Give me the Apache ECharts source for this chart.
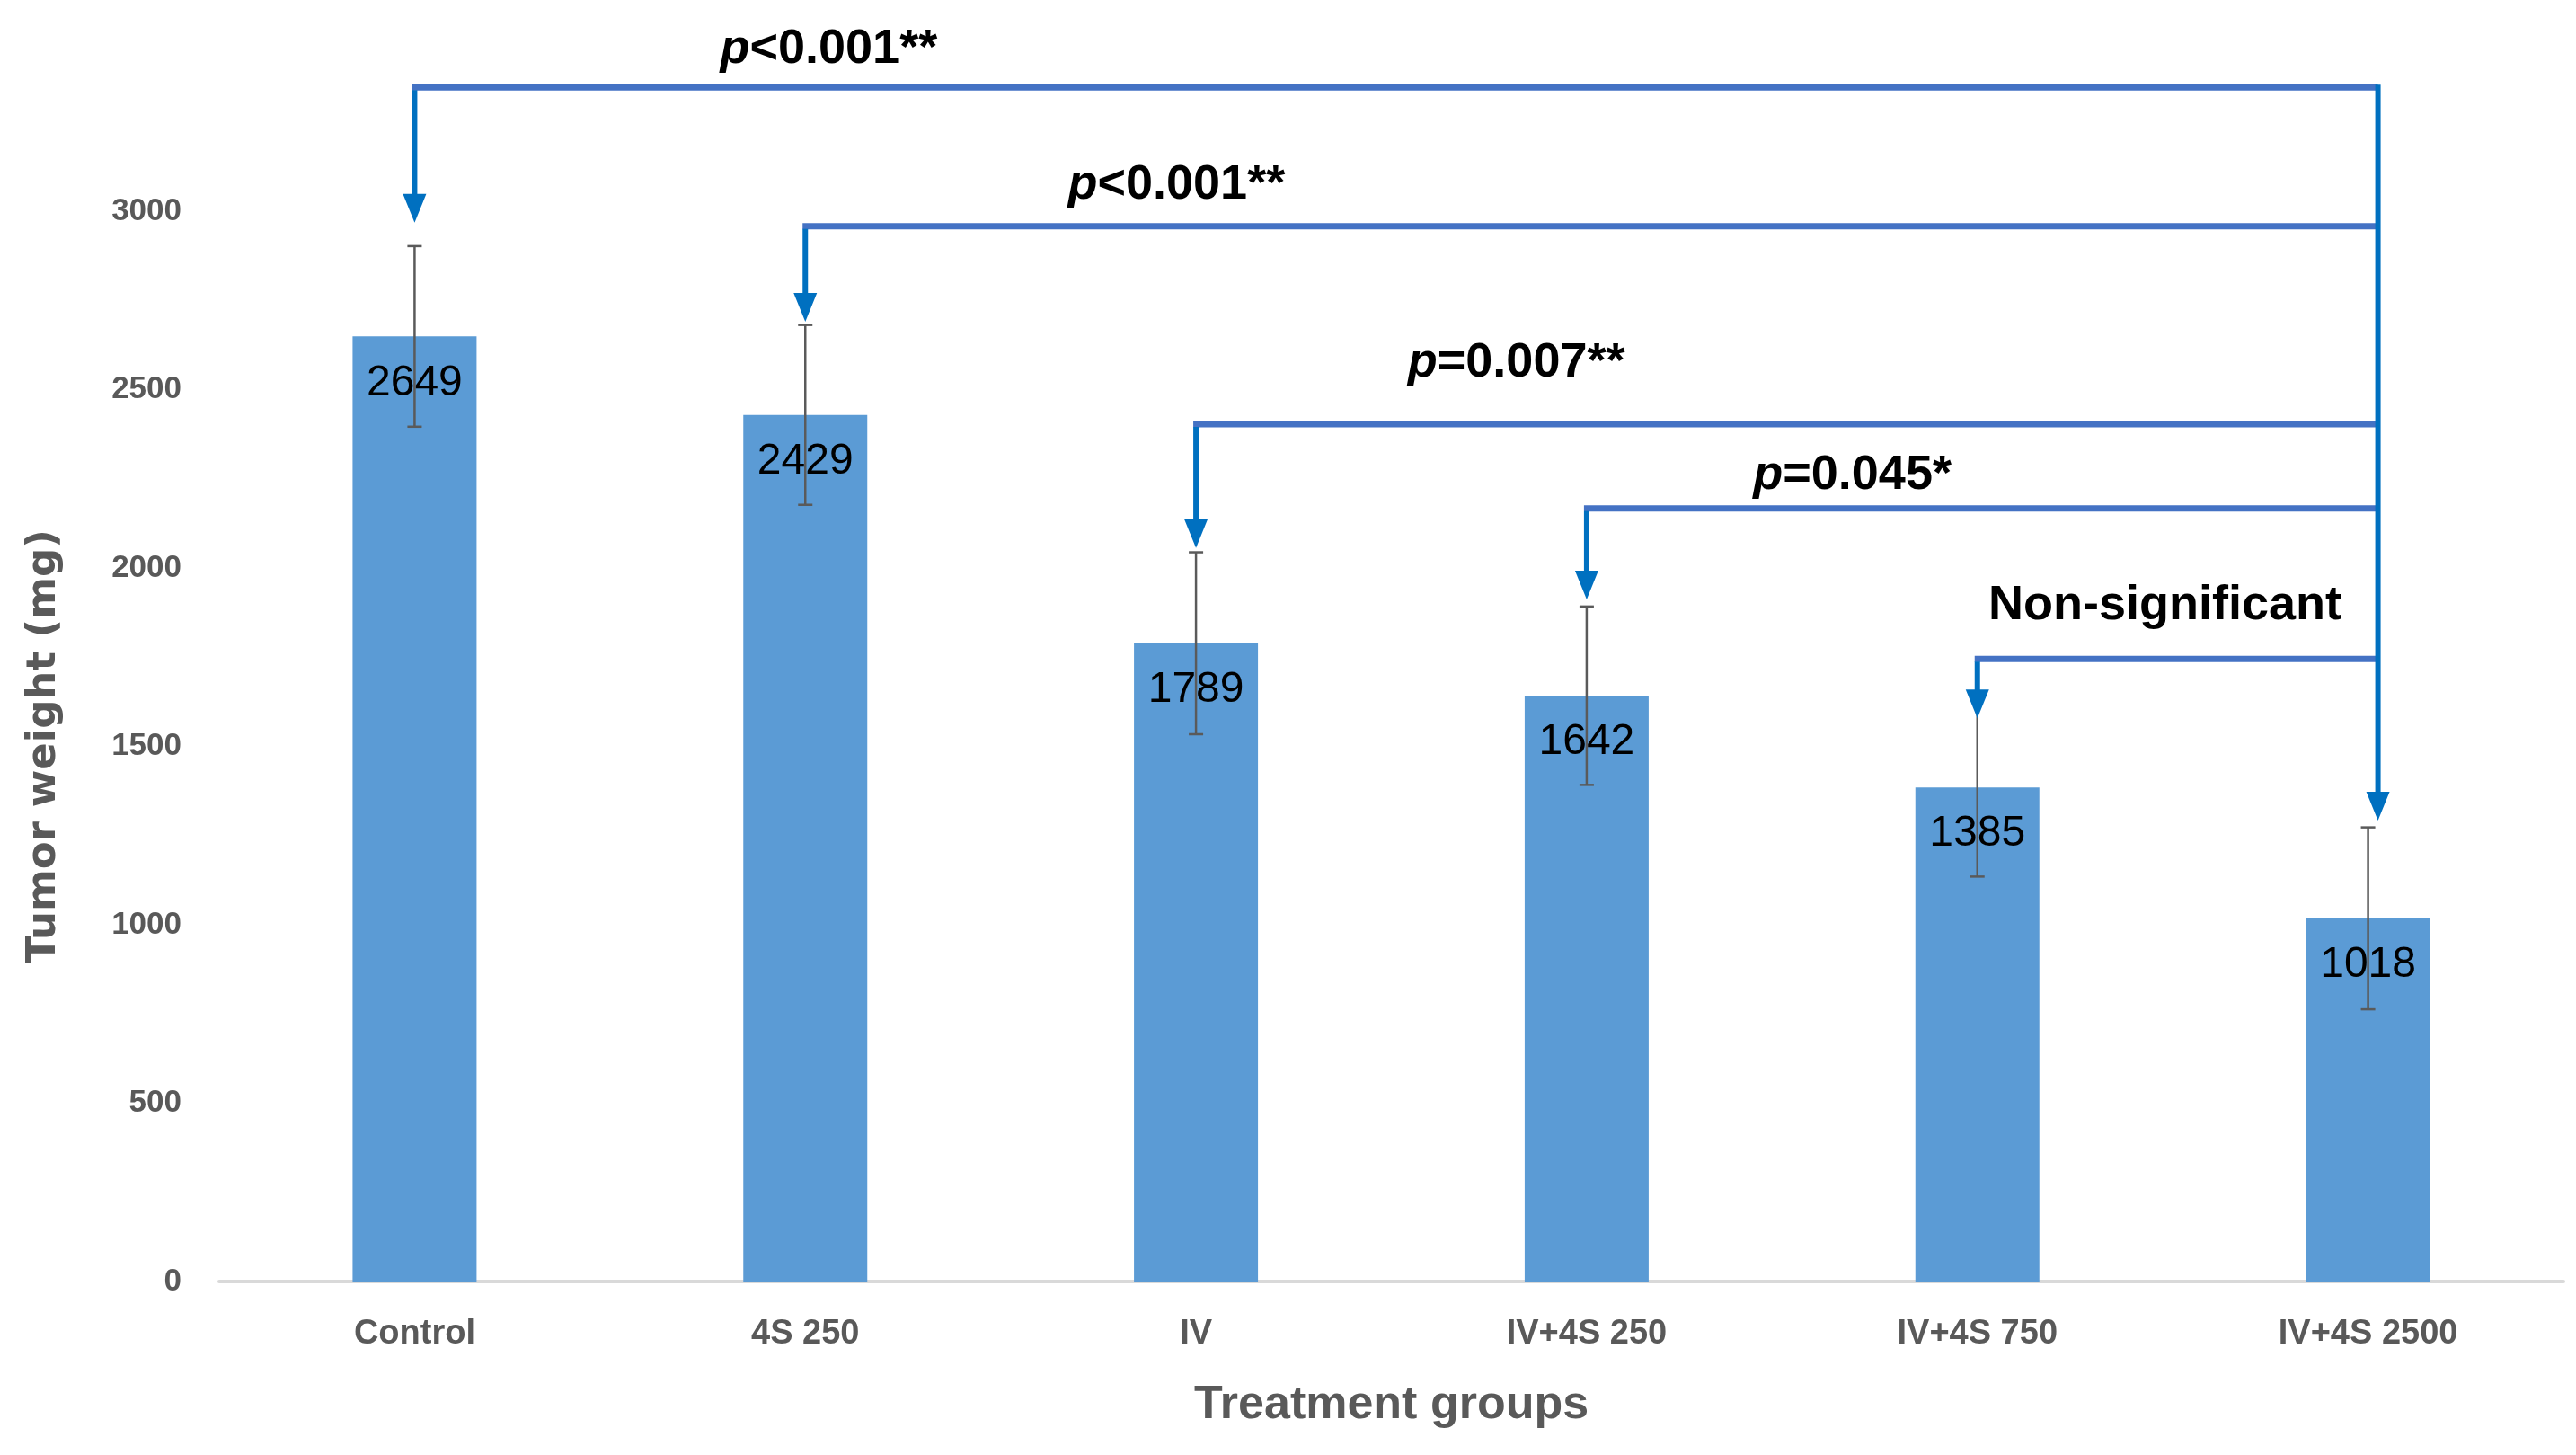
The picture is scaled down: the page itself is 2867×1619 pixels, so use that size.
<!DOCTYPE html>
<html><head><meta charset="utf-8">
<script src="https://cdn.jsdelivr.net/npm/echarts@6/dist/echarts.min.js"></script>
<style>html,body{margin:0;padding:0;background:#fff}#c{width:2867px;height:1619px}</style>
</head><body><div id="c"></div>
<script>
// ---- data ----
const categories = ['Control', '4S 250', 'IV', 'IV+4S 250', 'IV+4S 750', 'IV+4S 2500'];
const weights = [2649, 2429, 1789, 1642, 1385, 1018];
const errors = [253, 252, 255, 250, 250, 255];
const yTicks = [0, 500, 1000, 1500, 2000, 2500, 3000];

// comparisons: every group vs IV+4S 2500 (annotation levels in data units)
const comparisonFrom = [0, 1, 2, 3, 4];
const comparisonTo = 5;
const bracketLevels = [3347, 2958, 2403, 2167, 1745];
const arrowTips = [2968, 2690, 2056, 1912, 1579];
const trunkTip = 1292;
const pLabels = ['p<0.001**', 'p<0.001**', 'p=0.007**', 'p=0.045*', 'Non-significant'];
const labelCats = [1.06, 1.95, 2.82, 3.68, 4.48];
const labelLevels = [3454, 3074, 2574, 2259, 1894];

// ---- chart ----
const FONT = "'Liberation Sans', Arial, sans-serif";
const chart = echarts.init(document.getElementById('c'));
const trunkOffset = 11;
const headLen = 32, headHalf = 13;
const arrowColor = '#0070C0', barLineColor = '#4472C4';

function arrow(x, y0, y1) {
  return [
    { type: 'line', shape: { x1: x, y1: y0, x2: x, y2: y1 - headLen + 2 }, style: { stroke: arrowColor, lineWidth: 6 } },
    { type: 'polygon', shape: { points: [[x - headHalf, y1 - headLen], [x + headHalf, y1 - headLen], [x, y1]] }, style: { fill: arrowColor } }
  ];
}

const bracketData = comparisonFrom.map((c, i) => [c, bracketLevels[i], arrowTips[i], i]);
const errData = weights.map((w, i) => [i, w - errors[i], w + errors[i]]);

chart.setOption({
  animation: false,
  backgroundColor: '#fff',
  grid: { left: 244, right: 14, top: 235, bottom: 193, containLabel: false },
  xAxis: {
    type: 'category', data: categories,
    axisLine: { show: true, lineStyle: { color: '#D9D9D9', width: 4 } },
    axisTick: { show: false },
    axisLabel: { color: '#595959', fontWeight: 'bold', fontSize: 38, fontFamily: FONT, margin: 40 },
    name: 'Treatment groups', nameLocation: 'middle', nameGap: 112,
    nameTextStyle: { color: '#595959', fontWeight: 'bold', fontSize: 52, fontFamily: FONT }
  },
  yAxis: {
    type: 'value', min: yTicks[0], max: yTicks[yTicks.length - 1], interval: yTicks[1] - yTicks[0],
    axisLine: { show: false }, axisTick: { show: false }, splitLine: { show: false },
    axisLabel: { color: '#595959', fontWeight: 'bold', fontSize: 35, fontFamily: FONT, margin: 42,
      formatter: v => String(v) },
    name: 'Tumor weight (mg)', nameLocation: 'middle', nameGap: 172,
    nameTextStyle: { color: '#595959', fontWeight: 'bold', fontSize: 45, fontFamily: "'DejaVu Sans', sans-serif" }
  },
  series: [
    {
      type: 'bar', data: weights, barWidth: 138,
      itemStyle: { color: '#5B9BD5' },
      label: { show: true, position: 'insideTop', distance: 28, color: '#000', fontSize: 48, fontFamily: FONT }
    },
    {
      type: 'custom', data: errData, clip: false, z: 5,
      renderItem(params, api) {
        const lo = api.coord([api.value(0), api.value(1)]);
        const hi = api.coord([api.value(0), api.value(2)]);
        const st = { stroke: '#5a5a5a', lineWidth: 2.5 };
        return { type: 'group', children: [
          { type: 'line', shape: { x1: lo[0], y1: lo[1], x2: hi[0], y2: hi[1] }, style: st },
          { type: 'line', shape: { x1: lo[0] - 8, y1: lo[1], x2: lo[0] + 8, y2: lo[1] }, style: st },
          { type: 'line', shape: { x1: hi[0] - 8, y1: hi[1], x2: hi[0] + 8, y2: hi[1] }, style: st }
        ] };
      }
    },
    {
      type: 'custom', data: bracketData, clip: false, z: 10,
      renderItem(params, api) {
        const i = api.value(3);
        const from = api.value(0);
        const pFrom = api.coord([from, api.value(1)]);
        const pTip = api.coord([from, api.value(2)]);
        const pTo = api.coord([comparisonTo, api.value(1)]);
        const xr = pTo[0] + trunkOffset;
        const band = api.size([1, 0])[0];
        const lc = labelCats[i];
        const base = api.coord([Math.floor(lc), labelLevels[i]]);
        const lx = base[0] + (lc - Math.floor(lc)) * band;
        const lab = pLabels[i];
        const txt = lab.startsWith('p') ? '{i|p}{b|' + lab.slice(1) + '}' : '{b|' + lab + '}';
        return { type: 'group', children: [
          { type: 'line', shape: { x1: pFrom[0] - 3, y1: pFrom[1], x2: xr, y2: pFrom[1] }, style: { stroke: barLineColor, lineWidth: 7 } },
          ...arrow(pFrom[0], pFrom[1] + 3, pTip[1]),
          { type: 'text', style: {
              text: txt, x: lx, y: base[1], align: 'center', verticalAlign: 'middle',
              rich: {
                i: { fontStyle: 'italic', fontWeight: 'bold', fontSize: 54, fontFamily: FONT, fill: '#000' },
                b: { fontWeight: 'bold', fontSize: 54, fontFamily: FONT, fill: '#000' }
              }
          } }
        ] };
      }
    },
    {
      type: 'custom', data: [[comparisonTo, bracketLevels[0], trunkTip]], clip: false, z: 11,
      renderItem(params, api) {
        const top = api.coord([api.value(0), api.value(1)]);
        const tip = api.coord([api.value(0), api.value(2)]);
        const x = top[0] + trunkOffset;
        return { type: 'group', children: arrow(x, top[1] - 3, tip[1]) };
      }
    }
  ]
});
</script></body></html>
